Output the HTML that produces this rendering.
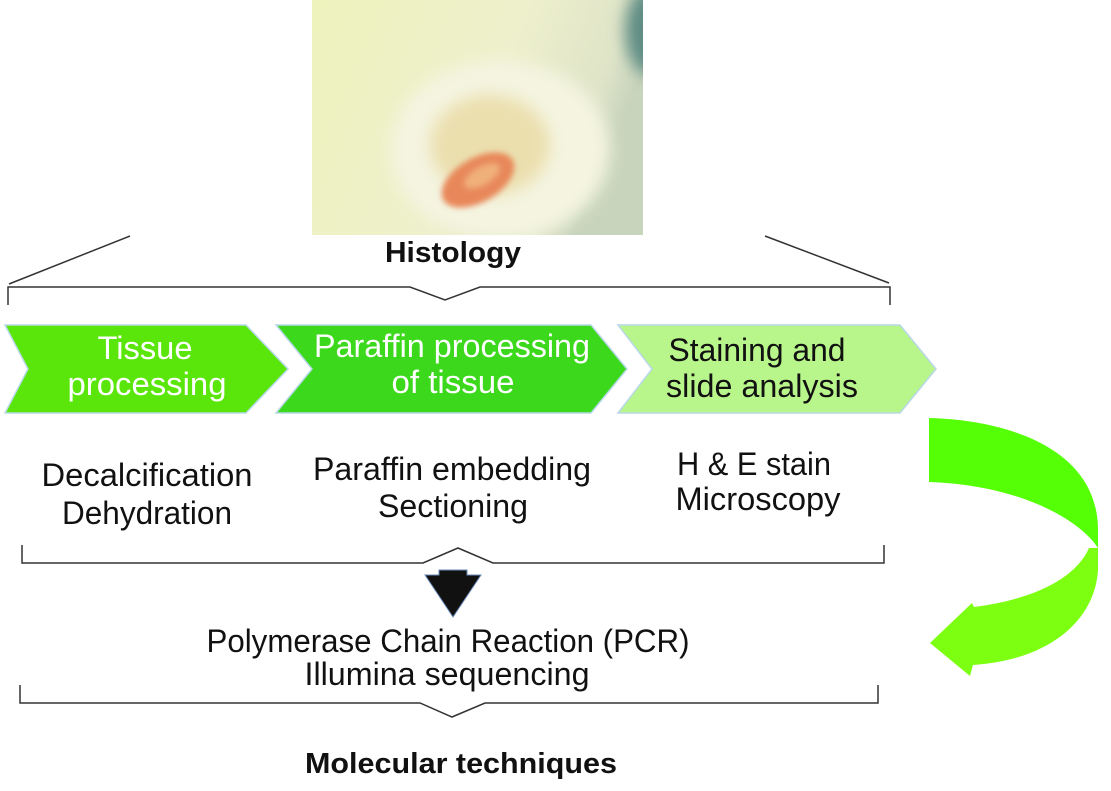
<!DOCTYPE html>
<html><head><meta charset="utf-8"><style>
html,body{margin:0;padding:0;background:#fff;}
svg{display:block;font-family:"Liberation Sans",sans-serif;}
</style></head><body>
<svg width="1111" height="791" viewBox="0 0 1111 791" xmlns="http://www.w3.org/2000/svg">
<defs>
<filter id="b8" x="-50%" y="-50%" width="200%" height="200%"><feGaussianBlur stdDeviation="8"/></filter>
<filter id="b3" x="-50%" y="-50%" width="200%" height="200%"><feGaussianBlur stdDeviation="3"/></filter>
<linearGradient id="bg" x1="0" y1="0" x2="1" y2="0.3">
<stop offset="0" stop-color="#eef2bc"/><stop offset="0.6" stop-color="#eef0cc"/><stop offset="0.9" stop-color="#dfe4c8"/><stop offset="1" stop-color="#c8d4bc"/>
</linearGradient>
<clipPath id="ph"><rect x="312" y="0" width="331" height="235"/></clipPath>
</defs>
<g clip-path="url(#ph)">
<rect x="312" y="0" width="331" height="235" fill="url(#bg)"/>
<ellipse cx="650" cy="30" rx="25" ry="45" fill="#5f8c84" filter="url(#b8)"/>
<ellipse cx="500" cy="150" rx="110" ry="90" fill="#f4f4e0" filter="url(#b8)"/>
<ellipse cx="490" cy="145" rx="60" ry="50" fill="#ebdfae" filter="url(#b8)"/>
<ellipse cx="478" cy="180" rx="40" ry="22" transform="rotate(-30 478 180)" fill="#e8885a" filter="url(#b3)"/>
<ellipse cx="482" cy="176" rx="20" ry="9" transform="rotate(-30 482 176)" fill="#f0b07a" filter="url(#b3)"/>
</g>
<g stroke="#333" fill="none" stroke-width="1.5">
<line x1="130" y1="236" x2="9" y2="284"/>
<line x1="765" y1="236" x2="889" y2="283"/>
<polyline points="8,305 8,287 410,287 445,300 480,287 890,287 890,305"/>
</g>
<g font-weight="bold" font-size="29" fill="#111" text-anchor="middle" lengthAdjust="spacingAndGlyphs">
<text x="453" y="262" textLength="136" lengthAdjust="spacingAndGlyphs">Histology</text>
<text x="461" y="773" textLength="312" lengthAdjust="spacingAndGlyphs">Molecular techniques</text>
</g>
<polygon points="5,325 246,325 288,369 246,413 5,413 28,369" fill="#5ae60a" stroke="#b8d8e8" stroke-width="1.5"/>
<polygon points="276,325 591,325 627,369 591,413 276,413 312,369" fill="#3cd81c" stroke="#b8d8e8" stroke-width="1.5"/>
<polygon points="618,325 900,325 936,369 900,413 618,413 652,369" fill="#b8f58a" stroke="#b8d8e8" stroke-width="1.5"/>
<g font-size="32" fill="#fff" text-anchor="middle">
<text x="145" y="359" textLength="95" lengthAdjust="spacingAndGlyphs">Tissue</text>
<text x="147" y="395" textLength="159" lengthAdjust="spacingAndGlyphs">processing</text>
<text x="452" y="357" textLength="276" lengthAdjust="spacingAndGlyphs">Paraffin processing</text>
<text x="453" y="393" textLength="123" lengthAdjust="spacingAndGlyphs">of tissue</text>
</g>
<g font-size="32" fill="#111" text-anchor="middle">
<text x="757" y="361" textLength="177" lengthAdjust="spacingAndGlyphs">Staining and</text>
<text x="762" y="397" textLength="192" lengthAdjust="spacingAndGlyphs">slide analysis</text>
<text x="147" y="486" textLength="211" lengthAdjust="spacingAndGlyphs">Decalcification</text>
<text x="147" y="524" textLength="170" lengthAdjust="spacingAndGlyphs">Dehydration</text>
<text x="452" y="480" textLength="278" lengthAdjust="spacingAndGlyphs">Paraffin embedding</text>
<text x="453" y="517" textLength="150" lengthAdjust="spacingAndGlyphs">Sectioning</text>
<text x="754" y="475" textLength="154" lengthAdjust="spacingAndGlyphs">H &amp; E stain</text>
<text x="758" y="510" textLength="165" lengthAdjust="spacingAndGlyphs">Microscopy</text>
<text x="448" y="652" textLength="483" lengthAdjust="spacingAndGlyphs">Polymerase Chain Reaction (PCR)</text>
<text x="447" y="685" textLength="285" lengthAdjust="spacingAndGlyphs">Illumina sequencing</text>
</g>
<polyline points="22,545 22,563 423,563 458,548 493,563 884,563 884,545" stroke="#333" stroke-width="1.5" fill="none"/>
<polygon points="439,570 467,570 467,575 481,575 453,617 425,575 439,575" fill="#111" stroke="#6a8ab8" stroke-width="1"/>
<polyline points="20,685 20,703 420,703 452,717 485,703 878,703 878,685" stroke="#333" stroke-width="1.5" fill="none"/>
<path d="M929,418 C1010,420 1098,450 1098,530 L1098,548 C1080,520 1020,485 929,482 Z" fill="#55ff05"/>
<path d="M1098,548 L1098,570 C1095,620 1050,660 973,665 L970,676 L930,643 L972,603 L974,607 C1030,600 1075,580 1089,548 Z" fill="#7cff10"/>
</svg>
</body></html>
